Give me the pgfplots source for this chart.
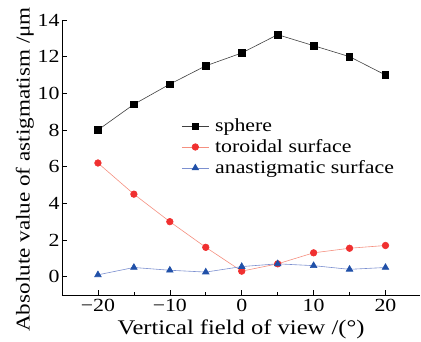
\documentclass[border=0pt]{standalone}
\usepackage{pgfplots}
\pgfplotsset{compat=1.18}
\usepackage{fontspec}
\setmainfont{Liberation Serif}[FakeStretch=1.18]
\definecolor{myred}{HTML}{F03030}
\definecolor{myredl}{HTML}{F59080}
\definecolor{myblue}{HTML}{2050A8}
\definecolor{mybluel}{HTML}{7C90D0}
\begin{document}
\begin{tikzpicture}
\begin{axis}[
  name=ax,
  scale only axis, width=358pt, height=275pt,
  xmin=-25, xmax=24.8, ymin=-1, ymax=14,
  axis lines*=left,
  axis line style={line width=0.8pt},
  tick style={line width=0.6pt, black},
  tick align=inside, major tick length=5pt, minor tick length=2.5pt,
  xtick={-20,-10,0,10,20},
  xticklabels={−20,−10,0,10,20},
  minor xtick={-15,-5,5,15},
  ytick={0,2,4,6,8,10,12,14},
  /pgf/number format/assume math mode=true,
  ticklabel style={font=\fontsize{18.5}{20}\selectfont},
  xticklabel style={yshift=-1pt},
  yticklabel style={xshift=1pt},
  xlabel={Vertical field of view /(°)},
  ylabel={Absolute value of astigmatism /μm},
  xlabel style={font=\fontsize{20.8}{22}\selectfont, yshift=-1pt},
  ylabel style={font=\fontsize{19.6}{21}\selectfont, yshift=-3pt, xshift=-12pt},
  legend style={draw=none, fill=none, font=\fontsize{18.5}{20}\selectfont, at={(rel axis cs:0.325,0.652)}, anchor=north west, row sep=4.5pt, nodes={inner ysep=1pt, inner xsep=2pt},
    /tikz/column 1/.style={column sep=4pt}},
  legend cell align=left,
  legend image code/.code={
    \draw[#1,mark=none] (0pt,0pt) -- (27pt,0pt);
    \draw[#1,only marks] plot coordinates {(13.5pt,0pt)};
  },
]
\addplot[black!75, line width=0.6pt, mark=square*, mark size=3.2pt, mark options={fill=black, draw=black}] coordinates {
(-20,8) (-15,9.4) (-10,10.5) (-5,11.5) (0,12.2) (5,13.2) (10,12.6) (15,12) (20,11)};
\addlegendentry{sphere}
\addplot[myredl, line width=0.6pt, mark=*, mark size=3.3pt, mark options={fill=myred, draw=myred}] coordinates {
(-20,6.2) (-15,4.5) (-10,3.0) (-5,1.6) (0,0.3) (5,0.7) (10,1.3) (15,1.55) (20,1.7)};
\addlegendentry{toroidal surface}
\addplot[mybluel, line width=0.6pt, mark=triangle*, mark size=3.8pt, mark options={fill=myblue, draw=myblue}] coordinates {
(-20,0.1) (-15,0.5) (-10,0.35) (-5,0.25) (0,0.55) (5,0.7) (10,0.6) (15,0.4) (20,0.5)};
\addlegendentry{anastigmatic surface}
\end{axis}
\pgfresetboundingbox
\useasboundingbox (ax.south west) ++(-62pt,-47pt) rectangle ++(421pt,342pt);
\end{tikzpicture}
\end{document}
